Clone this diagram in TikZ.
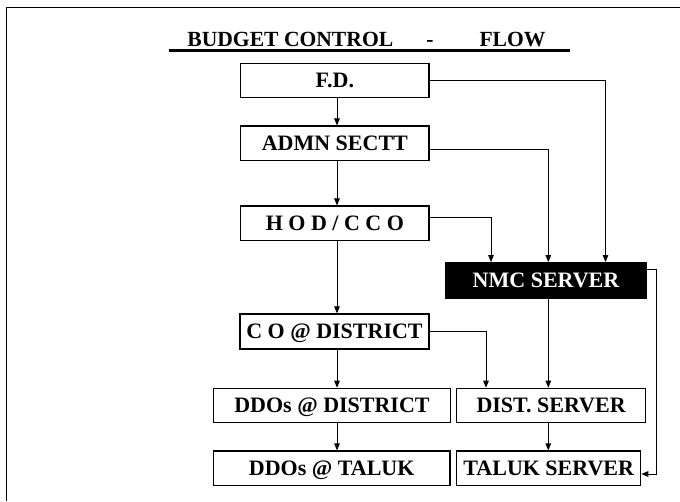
\documentclass[tikz,border=0pt]{standalone}
\usepackage{fontspec}
\setmainfont{Liberation Serif}
\usetikzlibrary{arrows.meta}
\begin{document}
\begin{tikzpicture}[x=1pt,y=-1pt,
  box/.style={draw, line width=1.2pt, inner sep=0pt,
    font=\fontsize{22}{24}\selectfont\bfseries, text height=14.6pt, text depth=0pt},
  titlefont/.style={font=\fontsize{21.6}{24}\selectfont\bfseries, anchor=base, inner sep=0pt},
  conn/.style={line width=1pt},
  arr/.style={conn, -{Triangle[length=7pt,width=5.5pt]}}]
\useasboundingbox (0,0) rectangle (680,501);

% frame
\draw[line width=1.3pt] (6.7,501) -- (6.7,7.7) -- (680,7.7);

% title
\node[titlefont] (t1) at (290.3,46) {BUDGET CONTROL};
\node[titlefont] (t2) at (430,46) {-};
\node[titlefont] (t3) at (512.5,46) {FLOW};
\draw[line width=2.3pt] (169,50.5) -- (570,50.5);

% boxes
\node[box, minimum width=188.3pt, minimum height=34.4pt] (fd) at (334.85,80.5) {F.D.};
\node[box, minimum width=188.3pt, minimum height=34.6pt] (admn) at (334.85,143.35) {ADMN SECTT};
\node[box, minimum width=188.3pt, minimum height=34.6pt] (hod) at (334.85,223.35) {H O D / C C O};
\node[box, minimum width=200pt, minimum height=35.6pt, fill=black, text=white] (nmc) at (546,280.5) {NMC SERVER};
\node[box, minimum width=189pt, minimum height=35pt] (co) at (334.5,331.5) {C O @ DISTRICT};
\node[box, minimum width=237.4pt, minimum height=34.4pt] (ddosd) at (332,405.5) {DDOs @ DISTRICT};
\node[box, minimum width=189.2pt, minimum height=34.4pt] (dist) at (551.1,405.5) {DIST. SERVER};
\node[box, minimum width=236.7pt, minimum height=34.4pt] (ddost) at (331.7,468.2) {DDOs @ TALUK};
\node[box, minimum width=184pt, minimum height=34.4pt] (taluk) at (548.7,468.2) {TALUK SERVER};

% helper coordinates
\coordinate (cx) at (337,0);
\coordinate (xf) at (605.5,0);
\coordinate (xa) at (548.3,0);
\coordinate (xh) at (491,0);
\coordinate (xc) at (486,0);
\coordinate (xr) at (656.7,0);
\coordinate (ya) at (0,149);
\coordinate (yh) at (0,217.3);
\coordinate (yn) at (0,269);
\coordinate (yt) at (0,474);

% left column
\draw[arr] (fd.south -| cx) -- (admn.north -| cx);
\draw[arr] (admn.south -| cx) -- (hod.north -| cx);
\draw[arr] (hod.south -| cx) -- (co.north -| cx);
\draw[arr] (co.south -| cx) -- (ddosd.north -| cx);
\draw[arr] (ddosd.south -| cx) -- (ddost.north -| cx);

% to NMC server
\draw[arr] (fd.east) -- (fd.east -| xf) -- (nmc.north -| xf);
\draw[arr] (admn.east |- ya) -- (xa |- ya) -- (nmc.north -| xa);
\draw[arr] (hod.east |- yh) -- (xh |- yh) -- (nmc.north -| xh);

% right column
\draw[arr] (co.east) -- (co.east -| xc) -- (dist.north -| xc);
\draw[arr] (nmc.south -| xa) -- (dist.north -| xa);
\draw[arr] (dist.south -| xa) -- (taluk.north -| xa);
\draw[arr] (nmc.east |- yn) -- (xr |- yn) -- (xr |- yt) -- (taluk.east |- yt);
\end{tikzpicture}
\end{document}
